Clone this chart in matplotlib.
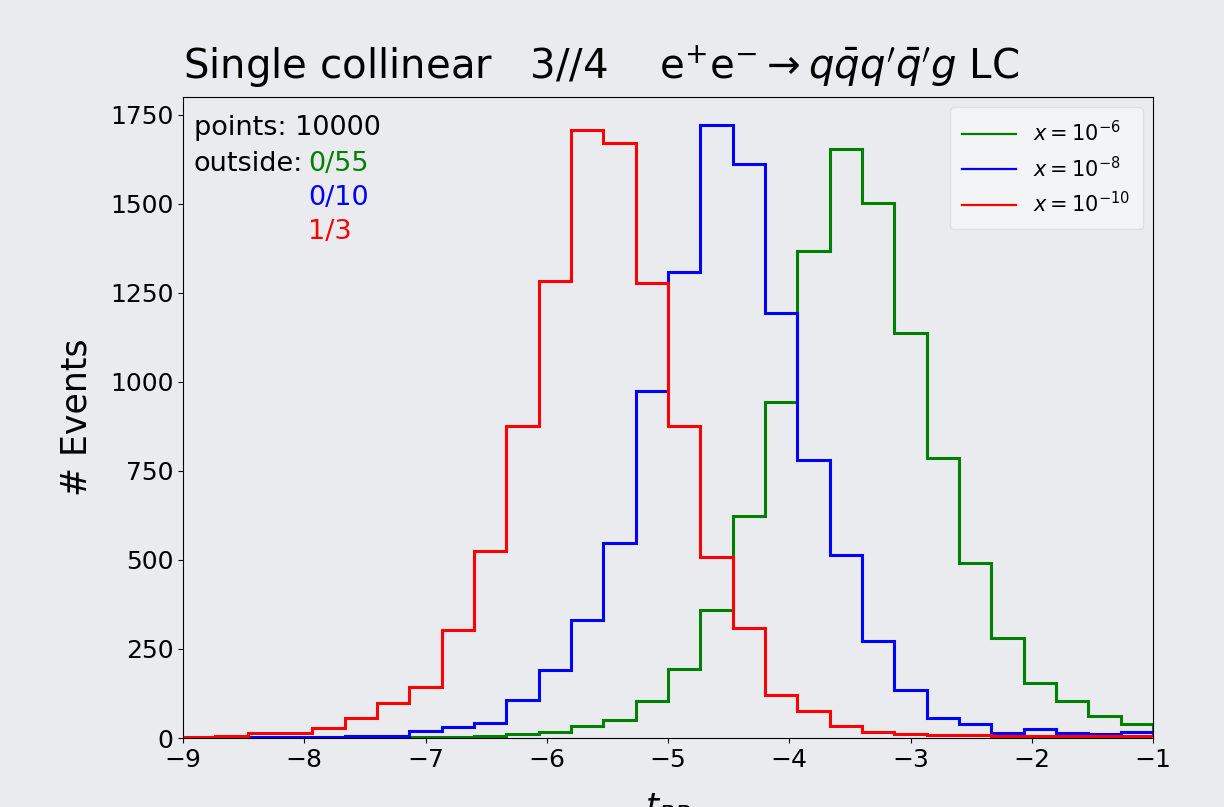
import matplotlib.pyplot as plt
import numpy as np
from matplotlib.lines import Line2D

# histogram of t over 30 bins between -9 and -1
bin_edges = np.linspace(-9, -1, 31)

counts_x6 = [0, 0, 0, 0, 1, 1, 1, 2, 3, 6, 10, 17, 35, 50, 105, 194, 360, 623,
             944, 1367, 1655, 1501, 1138, 787, 491, 280, 155, 103, 63, 40]
counts_x8 = [0, 1, 3, 3, 3, 7, 7, 20, 30, 42, 108, 190, 331, 547, 975, 1308, 1720,
             1612, 1193, 781, 515, 272, 136, 56, 40, 14, 26, 14, 12, 17]
counts_x10 = [3, 6, 14, 14, 28, 56, 97, 143, 303, 526, 876, 1284, 1708, 1670, 1279,
              876, 509, 310, 122, 75, 33, 16, 12, 9, 8, 7, 6, 5, 5, 5]

labels = [r"$x=10^{-6}$", r"$x=10^{-8}$", r"$x=10^{-10}$"]
colors = ["green", "blue", "red"]
outside = ["0/55", "0/10", "1/3"]
n_points = 10000

bg = "#e9ebee"
fig = plt.figure(figsize=(12.24, 8.07), dpi=100, facecolor=bg)
ax = fig.add_axes([183 / 1224, 1 - 738 / 807, 970 / 1224, 641 / 807])
ax.set_facecolor(bg)

centers = 0.5 * (bin_edges[:-1] + bin_edges[1:])
handles = []
for counts, label, color in zip([counts_x6, counts_x8, counts_x10], labels, colors):
    ax.hist(centers, bins=bin_edges, weights=counts, histtype="step",
            color=color, linewidth=2.2)
    handles.append(Line2D([], [], color=color, linewidth=1.6, label=label))

ax.set_xlim(-9, -1)
ax.set_ylim(0, 1800)
ax.set_yticks([0, 250, 500, 750, 1000, 1250, 1500, 1750])
ax.tick_params(labelsize=18)
ax.set_ylabel("# Events", fontsize=25, labelpad=12)
ax.set_xlabel(r"$t_{BB}$", fontsize=24, labelpad=14)
ax.set_title(r"Single collinear   3//4    e$^{+}$e$^{-}$$\rightarrow q\bar{q}q'\bar{q}'g$ LC",
             fontsize=29, loc="left", pad=13)

ax.legend(handles=handles, loc="upper right", fontsize=15, framealpha=0.45,
          handlelength=2.6, borderpad=0.6)

ax.text(0.011, 0.94, f"points: {n_points}", transform=ax.transAxes, fontsize=19.5)
ax.text(0.011, 0.885, "outside:", transform=ax.transAxes, fontsize=19.5)
for i, (txt, color) in enumerate(zip(outside, colors)):
    ax.text(0.129, 0.885 - i * 0.053, txt, transform=ax.transAxes,
            fontsize=19.5, color=color)

fig.savefig("out.png", dpi=100, facecolor=bg)
